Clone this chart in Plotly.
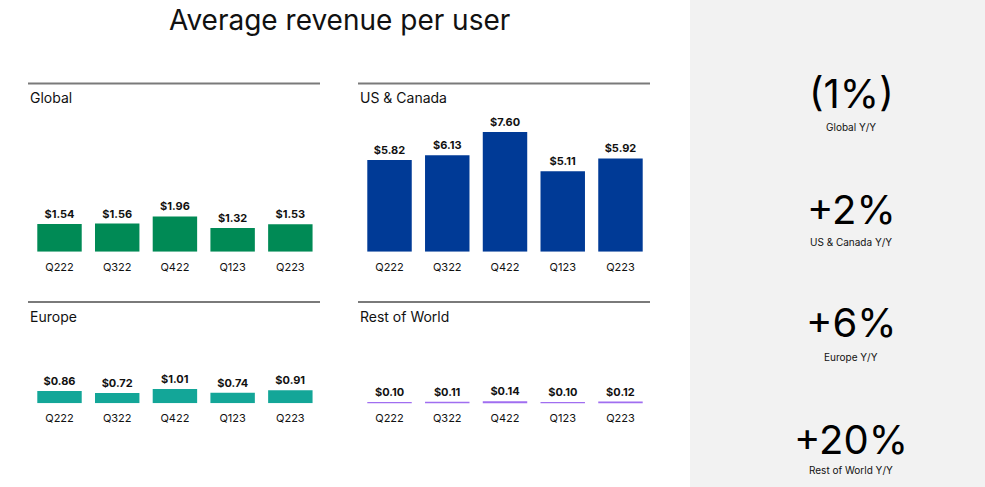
import plotly.graph_objects as go

W, H = 985, 487

quarters = ["Q222", "Q322", "Q422", "Q123", "Q223"]
global_arpu = [1.54, 1.56, 1.96, 1.32, 1.53]
us_canada_arpu = [5.82, 6.13, 7.60, 5.11, 5.92]
europe_arpu = [0.86, 0.72, 1.01, 0.74, 0.91]
row_arpu = [0.10, 0.11, 0.14, 0.10, 0.12]

region_names = ["Global", "US & Canada", "Europe", "Rest of World"]
yoy_values = ["(1%)", "+2%", "+6%", "+20%"]
yoy_labels = ["Global Y/Y", "US & Canada Y/Y", "Europe Y/Y", "Rest of World Y/Y"]

FONT = "Inter, Lato, sans-serif"
TXT = "#111111"

def px_x(p):
    return p / W

def px_y(p):
    return 1 - p / H

panels = [
    # values, color, x domain px, y domain px (top, bottom), y range max, title pos, line y, line x
    (global_arpu, "#008A55", (30.65, 319.2), (110, 251.7), 7.87, (28, 98), 83.5, (28, 320)),
    (us_canada_arpu, "#003A96", (360.65, 649.35), (110, 251.7), 9.0, (358, 98), 83.5, (358, 650)),
    (europe_arpu, "#13A698", (30.65, 319.2), (330, 403.3), 5.16, (28, 316), 302, (28, 320)),
    (row_arpu, "#A06EF0", (360.65, 649.35), (330, 403.3), 5.16, (358, 316), 302, (358, 650)),
]

fig = go.Figure()
shapes = []
annotations = []

# right grey panel
shapes.append(dict(type="rect", xref="paper", yref="paper", x0=px_x(690), x1=1.0,
                   y0=0, y1=1, fillcolor="#F2F2F2", line=dict(width=0), layer="below"))

for i, (vals, color, xd, yd, ymax, tpos, ly, lx) in enumerate(panels):
    n = "" if i == 0 else str(i + 1)
    fig.add_trace(go.Bar(
        x=quarters, y=vals, marker=dict(color=color, line=dict(width=0)),
        xaxis="x" + n, yaxis="y" + n,
        texttemplate="<b>$%{y:.2f}</b>", textposition="outside",
        textfont=dict(size=11, color=TXT, family=FONT),
        cliponaxis=False, showlegend=False, hoverinfo="skip",
    ))
    fig.layout["xaxis" + n] = dict(
        domain=[px_x(xd[0]), px_x(xd[1])], anchor="y" + n,
        type="category", showgrid=False, zeroline=False, showline=False,
        ticks="", ticklabelstandoff=7,
        tickfont=dict(size=11, color=TXT, family=FONT),
        fixedrange=True,
    )
    fig.layout["yaxis" + n] = dict(
        domain=[px_y(yd[1]), px_y(yd[0])], anchor="x" + n,
        range=[0, ymax], visible=False, fixedrange=True,
    )
    shapes.append(dict(type="line", xref="paper", yref="paper",
                       x0=px_x(lx[0]), x1=px_x(lx[1]), y0=px_y(ly), y1=px_y(ly),
                       line=dict(color="#7A7A7A", width=2)))
    annotations.append(dict(text=region_names[i], xref="paper", yref="paper",
                            x=px_x(tpos[0]), y=px_y(tpos[1]), xanchor="left", yanchor="middle",
                            showarrow=False, font=dict(size=14, color=TXT, family=FONT)))

# main title
annotations.append(dict(text="Average revenue per user", xref="paper", yref="paper",
                        x=px_x(339), y=px_y(20), xanchor="center", yanchor="middle",
                        showarrow=False, font=dict(size=28, color=TXT, family=FONT)))

# Y/Y stats
stat_y = [94, 209, 322, 439]
label_y = [127, 242, 357, 470]
for v, lab, sy, lyy in zip(yoy_values, yoy_labels, stat_y, label_y):
    annotations.append(dict(text=v, xref="paper", yref="paper", x=px_x(851), y=px_y(sy),
                            xanchor="center", yanchor="middle", showarrow=False,
                            font=dict(size=40, color="#000000", family=FONT)))
    annotations.append(dict(text=lab, xref="paper", yref="paper", x=px_x(851), y=px_y(lyy),
                            xanchor="center", yanchor="middle", showarrow=False,
                            font=dict(size=10, color=TXT, family=FONT)))

fig.update_layout(
    width=W, height=H, margin=dict(l=0, r=0, t=0, b=0),
    paper_bgcolor="white", plot_bgcolor="rgba(0,0,0,0)",
    bargap=0.23, shapes=shapes, annotations=annotations,
    font=dict(family=FONT),
)

fig.write_html("out.html", config={"displayModeBar": False},
               post_script="document.body.style.margin='0';document.body.style.overflow='hidden';")
